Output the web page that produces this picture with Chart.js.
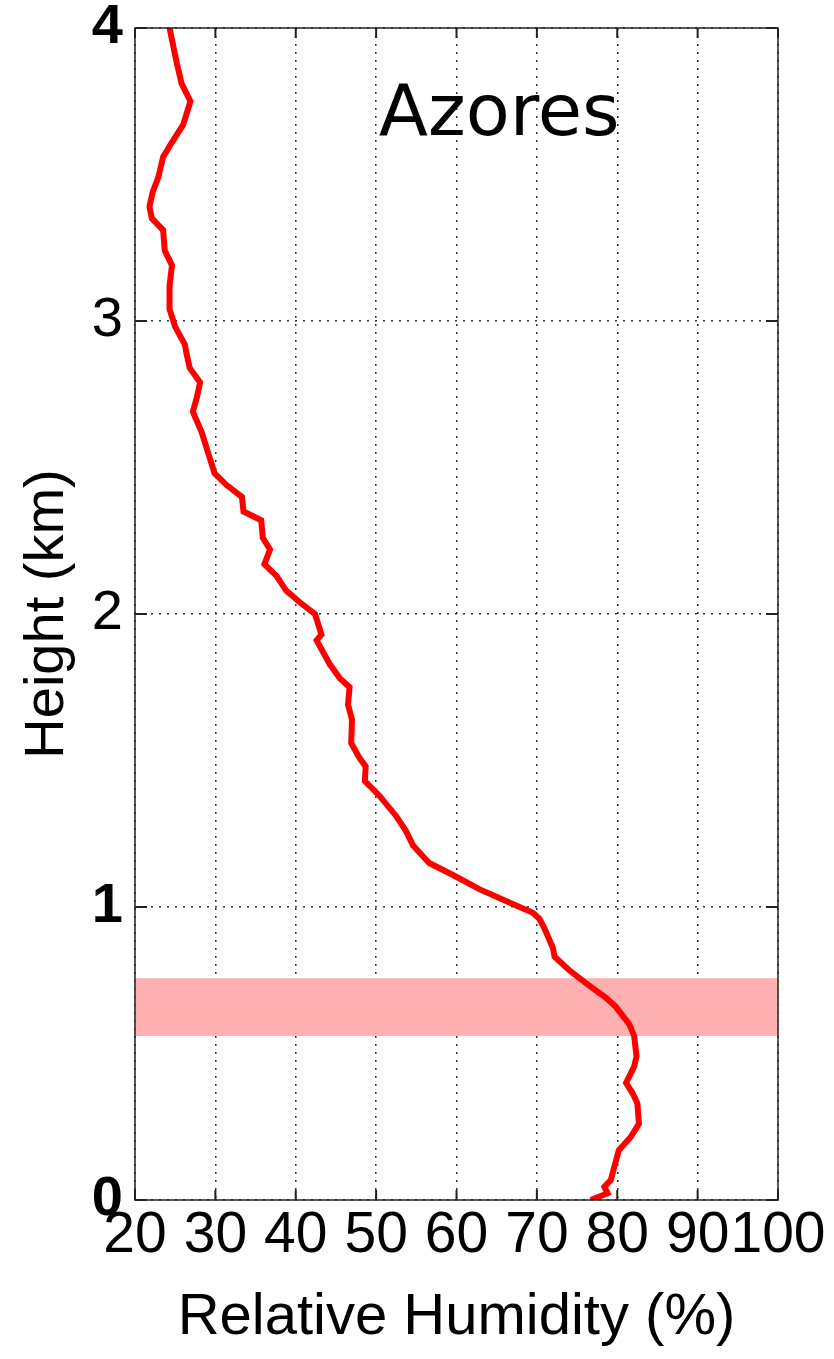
<!DOCTYPE html>
<html>
<head>
<meta charset="utf-8">
<script src="https://cdn.jsdelivr.net/npm/chart.js@4.4.1/dist/chart.umd.min.js"></script>
<style>
  html, body { margin: 0; padding: 0; background: #fff; }
  canvas { display: block; }
</style>
</head>
<body>
<canvas id="c" width="834" height="1359"></canvas>
<script>
// humidity profile (bottom -> top)
const heightKm = [0.0, 0.023, 0.045, 0.068, 0.11, 0.17, 0.216, 0.26, 0.33, 0.365, 0.40, 0.455, 0.49, 0.56, 0.60, 0.66, 0.69, 0.74, 0.785, 0.83, 0.86, 0.93, 0.96, 0.98, 1.01, 1.06, 1.11, 1.15, 1.21, 1.26, 1.31, 1.38, 1.43, 1.48, 1.51, 1.56, 1.64, 1.69, 1.75, 1.78, 1.83, 1.91, 1.93, 2.00, 2.04, 2.08, 2.13, 2.17, 2.22, 2.26, 2.32, 2.35, 2.40, 2.44, 2.48, 2.55, 2.62, 2.69, 2.74, 2.79, 2.84, 2.89, 2.92, 2.98, 3.04, 3.12, 3.19, 3.24, 3.31, 3.35, 3.39, 3.44, 3.49, 3.56, 3.61, 3.67, 3.75, 3.81, 3.88, 4.0];
const relHum = [76.7, 78.8, 78.4, 79.2, 79.6, 80.2, 81.7, 82.7, 82.5, 81.9, 81.1, 82.1, 82.4, 82.1, 81.5, 79.8, 78.6, 76.1, 74.0, 72.2, 72.0, 70.9, 70.3, 69.5, 67.0, 62.9, 59.5, 56.6, 54.6, 53.7, 52.5, 50.4, 48.6, 48.7, 47.9, 46.9, 47.0, 46.5, 46.7, 45.5, 44.2, 42.6, 43.2, 42.4, 40.5, 38.8, 37.6, 36.1, 36.8, 35.9, 35.7, 33.5, 33.3, 31.4, 29.9, 29.1, 28.3, 27.2, 27.7, 28.1, 26.8, 26.4, 26.2, 25.0, 24.3, 24.3, 24.6, 23.7, 23.5, 22.1, 21.8, 22.2, 22.9, 23.5, 24.6, 26.0, 26.9, 25.8, 25.2, 24.3];

// shaded layer (km)
const bandKm = [0.56, 0.757];

const xTicks = [20, 30, 40, 50, 60, 70, 80, 90, 100];
const yTicks = [0, 1, 2, 3, 4];
const siteName = 'Azores';

const points = heightKm.map((h, i) => ({ x: relHum[i], y: h }));

const FONT = '"Liberation Sans", Arial, sans-serif';

const bandPlugin = {
  id: 'band',
  beforeDatasetsDraw(chart) {
    const { ctx, chartArea: a, scales } = chart;
    const y1 = scales.y.getPixelForValue(bandKm[1]);
    const y0 = scales.y.getPixelForValue(bandKm[0]);
    ctx.save();
    ctx.fillStyle = '#ffb0b0';
    ctx.fillRect(a.left, y1, a.right - a.left, y0 - y1);
    ctx.restore();
  }
};

const framePlugin = {
  id: 'frame',
  afterDraw(chart) {
    const { ctx, chartArea: a, scales } = chart;
    ctx.save();
    ctx.strokeStyle = '#222';
    ctx.lineWidth = 1.5;
    ctx.strokeRect(a.left, a.top, a.right - a.left, a.bottom - a.top);
    ctx.lineWidth = 2;
    ctx.beginPath();
    xTicks.forEach(v => {
      const px = scales.x.getPixelForValue(v);
      ctx.moveTo(px, a.bottom); ctx.lineTo(px, a.bottom - 10);
      ctx.moveTo(px, a.top); ctx.lineTo(px, a.top + 10);
    });
    yTicks.forEach(v => {
      const py = scales.y.getPixelForValue(v);
      ctx.moveTo(a.left, py); ctx.lineTo(a.left + 12, py);
      ctx.moveTo(a.right, py); ctx.lineTo(a.right - 12, py);
    });
    ctx.stroke();
    // site label
    ctx.fillStyle = '#000';
    ctx.font = '72px "Comic Sans MS", "DejaVu Sans", sans-serif';
    ctx.textAlign = 'center';
    ctx.textBaseline = 'alphabetic';
    ctx.fillText(siteName, scales.x.getPixelForValue(65.3), scales.y.getPixelForValue(3.635));
    ctx.restore();
  }
};

new Chart(document.getElementById('c'), {
  type: 'scatter',
  data: {
    datasets: [{
      data: points,
      showLine: true,
      borderColor: '#ff0000',
      borderWidth: 6,
      pointRadius: 0,
      tension: 0
    }]
  },
  options: {
    responsive: false,
    animation: false,
    layout: { padding: { top: 28, right: 56, left: 20, bottom: 0 } },
    plugins: { legend: { display: false }, tooltip: { enabled: false } },
    scales: {
      x: {
        type: 'linear', min: 20, max: 100,
        afterBuildTicks: s => { s.ticks = xTicks.map(v => ({ value: v })); },
        afterFit: s => { s.height = 159; s.paddingLeft = 0; s.paddingRight = 0; },
        grid: { color: '#333', lineWidth: 1.5, drawTicks: false },
        border: { display: false, dash: [2, 6] },
        ticks: { color: '#000', padding: 8, maxRotation: 0, autoSkip: false,
                 font: { family: FONT, size: 57, lineHeight: 1 } },
        title: { display: true, text: 'Relative Humidity (%)', color: '#000',
                 padding: { top: 0, bottom: 12 },
                 font: { family: FONT, size: 58, lineHeight: 1 } }
      },
      y: {
        type: 'linear', min: 0, max: 4,
        afterBuildTicks: s => { s.ticks = yTicks.map(v => ({ value: v })); },
        afterFit: s => { s.width = 115; s.paddingTop = 0; s.paddingBottom = 0; },
        grid: { color: '#333', lineWidth: 1.5, drawTicks: false },
        border: { display: false, dash: [2, 6] },
        ticks: { color: '#000', padding: 12,
                 font: ctx => ({ family: FONT, size: 56, lineHeight: 1,
                   weight: [0, 1, 4].includes(ctx.tick && ctx.tick.value) ? 'bold' : 'normal' }) },
        title: { display: true, text: 'Height (km)', color: '#000',
                 padding: { top: 0, bottom: 0 },
                 font: { family: FONT, size: 56, lineHeight: 1 } }
      }
    }
  },
  plugins: [bandPlugin, framePlugin]
});
</script>
</body>
</html>
